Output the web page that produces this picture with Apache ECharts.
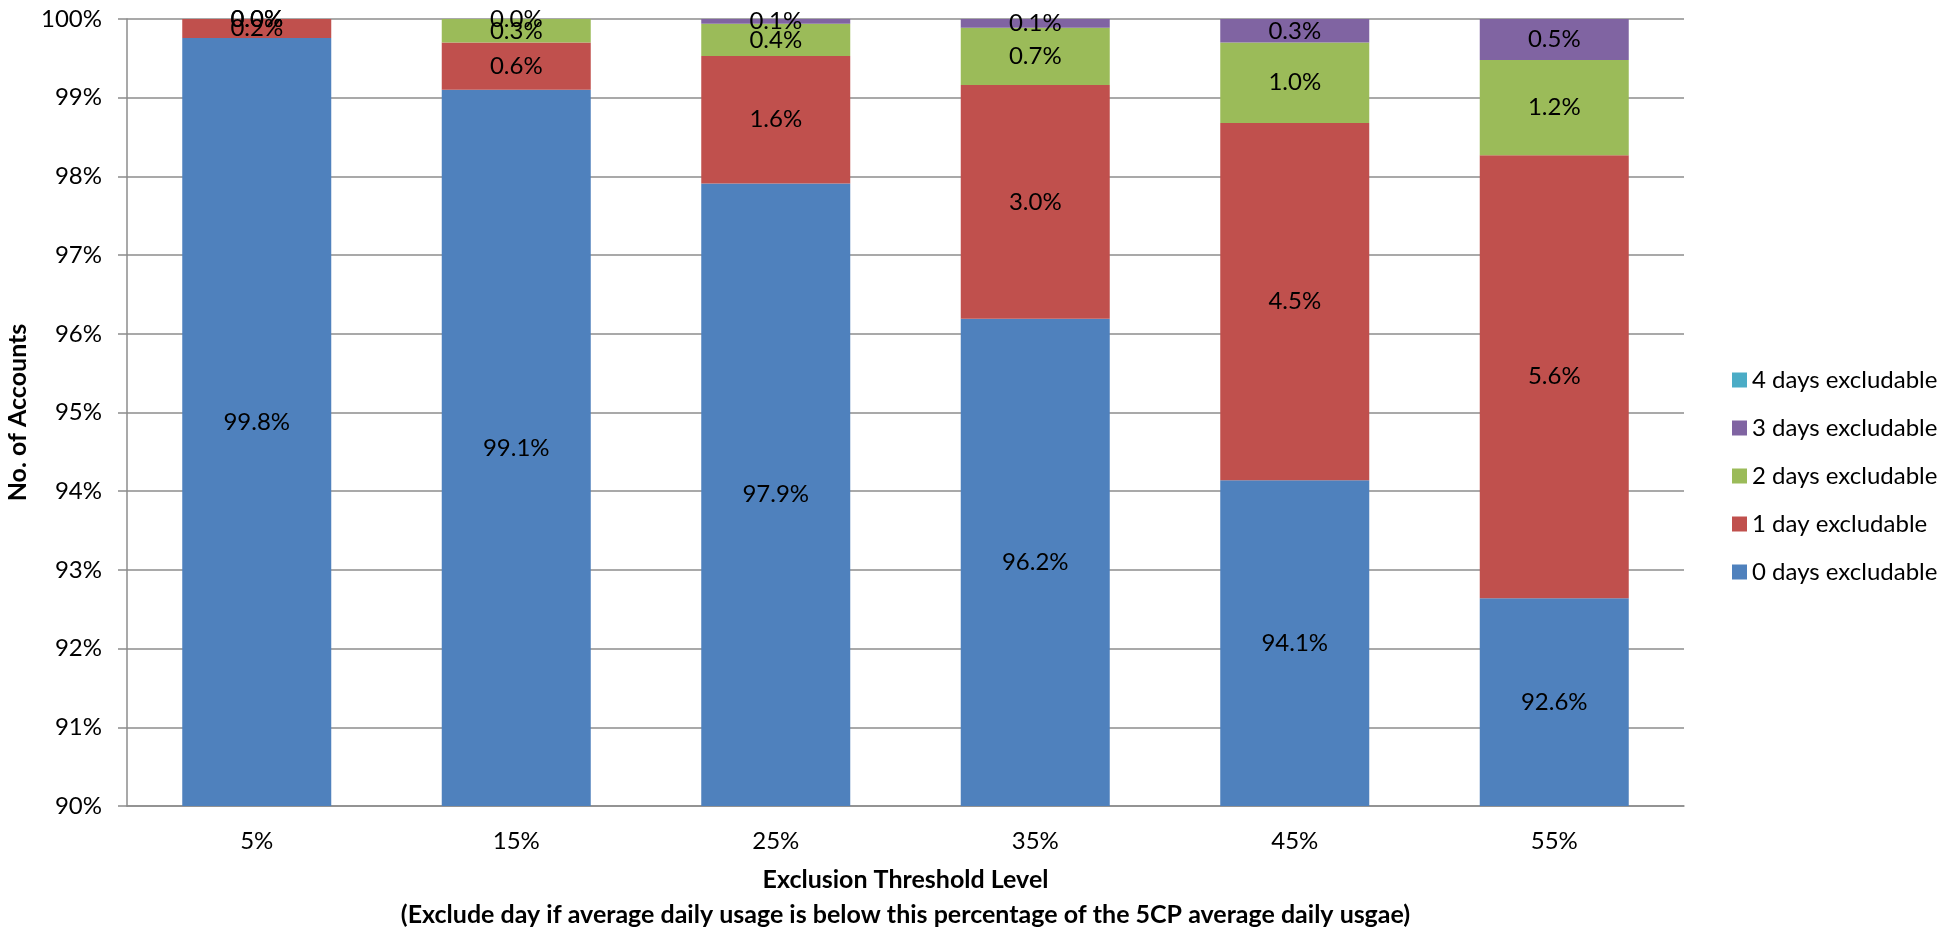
<!DOCTYPE html>
<html>
<head>
<meta charset="utf-8">
<title>Exclusion Threshold Level</title>
<script src="https://cdn.jsdelivr.net/npm/echarts@6/dist/echarts.min.js"></script>
<style>
  html, body { margin: 0; padding: 0; background: #ffffff; }
  #chart { width: 1954px; height: 929px; }
</style>
</head>
<body>
<div id="chart"></div>
<script>
// Threshold categories on the x axis
const categories = ['5%', '15%', '25%', '35%', '45%', '55%'];

// Share of accounts (%) by number of excludable days, per threshold
const days0 = [99.76, 99.10, 97.91, 96.19, 94.14, 92.64];
const days1 = [0.24, 0.60, 1.62, 2.97, 4.54, 5.63];
const days2 = [0.00, 0.30, 0.41, 0.73, 1.02, 1.21];
const days3 = [0.00, 0.00, 0.06, 0.11, 0.30, 0.52];
const days4 = [0.00, 0.00, 0.00, 0.00, 0.00, 0.00];

const seriesNames = [
  '0 days excludable',
  '1 day excludable',
  '2 days excludable',
  '3 days excludable',
  '4 days excludable'
];
const seriesColors = ['#4F81BD', '#C0504D', '#9BBB59', '#8064A2', '#4BACC6'];
const seriesData = [days0, days1, days2, days3, days4];

// Y axis range (percent)
const yMin = 90, yMax = 100, yStep = 1;

const FONT = 'Lato, "Open Sans", "Noto Sans", sans-serif';
const GRID_GRAY = '#8c8c8c';

const chart = echarts.init(document.getElementById('chart'), null, { renderer: 'canvas' });

const series = seriesData.map((vals, i) => ({
  name: seriesNames[i],
  type: 'bar',
  stack: 'total',
  barWidth: 149,
  itemStyle: { color: seriesColors[i] },
  label: {
    show: i < 4,
    position: 'inside',
    color: '#000000',
    fontFamily: FONT,
    fontSize: 24,
    formatter: p => p.value.toFixed(1) + '%'
  },
  emphasis: { disabled: true },
  data: vals.slice()
}));

chart.setOption({
  animation: false,
  backgroundColor: '#ffffff',
  textStyle: { fontFamily: FONT },
  grid: {
    left: 127, right: 270, top: 19, bottom: 123,
    containLabel: false,
    outerBoundsMode: 'none'
  },
  legend: {
    orient: 'vertical',
    left: 1727,
    top: 363,
    itemWidth: 15,
    itemHeight: 15,
    itemGap: 24,
    icon: 'rect',
    data: seriesNames.slice().reverse(),
    textStyle: { fontFamily: FONT, fontSize: 24, color: '#000000', lineHeight: 24 }
  },
  xAxis: {
    type: 'category',
    data: categories,
    axisLine: { show: true, lineStyle: { color: GRID_GRAY, width: 1.5 } },
    axisTick: { show: false },
    axisLabel: { margin: 23, color: '#000000', fontFamily: FONT, fontSize: 24 },
    name: 'Exclusion Threshold Level\n(Exclude day if average daily usage is below this percentage of the 5CP average daily usgae)',
    nameLocation: 'middle',
    nameGap: 56,
    nameTextStyle: { fontFamily: FONT, fontWeight: 'bold', fontSize: 25, color: '#000000', lineHeight: 35 }
  },
  yAxis: {
    type: 'value',
    min: yMin,
    max: yMax,
    interval: yStep,
    axisLine: { show: true, lineStyle: { color: GRID_GRAY, width: 1.5 } },
    axisTick: { show: true, length: 9, lineStyle: { color: GRID_GRAY, width: 1.5 } },
    splitLine: { show: true, lineStyle: { color: GRID_GRAY, width: 1.5 } },
    axisLabel: {
      margin: 25,
      color: '#000000',
      fontFamily: FONT,
      fontSize: 24,
      formatter: '{value}%'
    },
    name: 'No. of Accounts',
    nameLocation: 'middle',
    nameGap: 92,
    nameTextStyle: { fontFamily: FONT, fontWeight: 'bold', fontSize: 25, color: '#000000' }
  },
  series: series
});
</script>
</body>
</html>
